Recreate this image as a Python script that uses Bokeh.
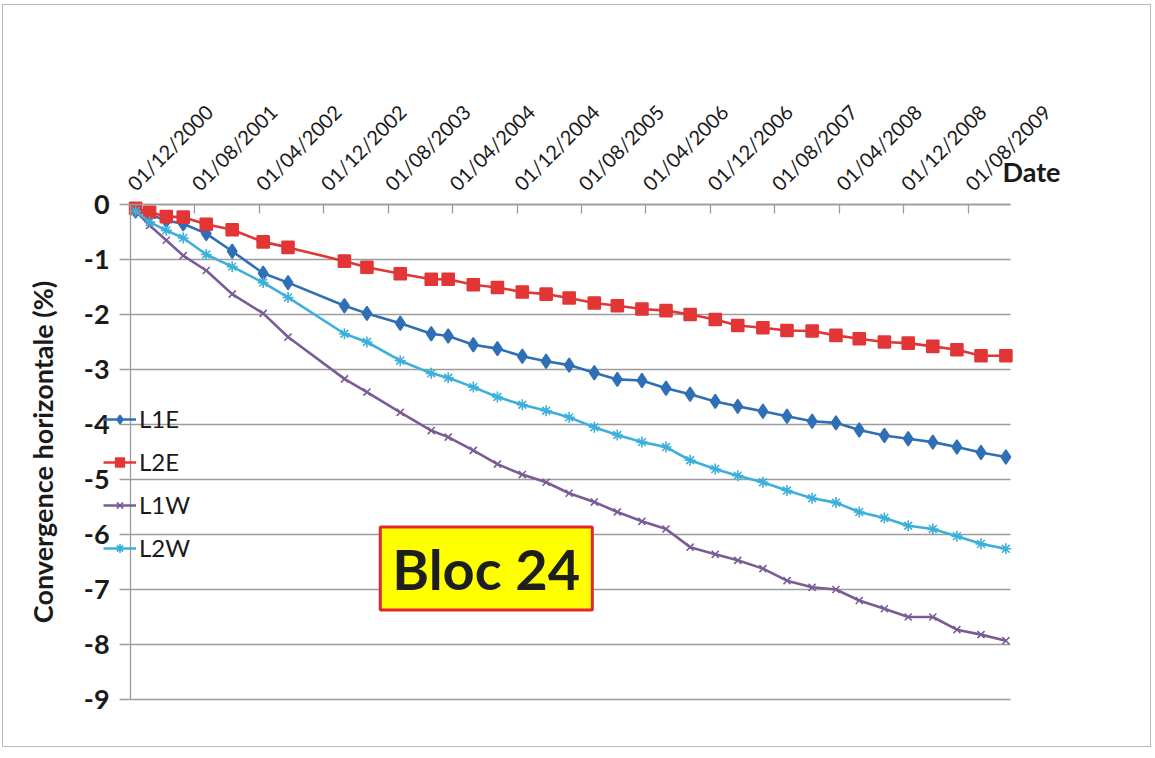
import pandas as pd
from math import pi
from bokeh.plotting import figure
from bokeh.models import (Range1d, FixedTicker, DatetimeTickFormatter, Legend,
                          LegendItem, Label, ColumnDataSource, PrintfTickFormatter)
from bokeh.embed import file_html
from bokeh.resources import INLINE

# ---------------- data ----------------
dates = ["2000-12-20", "2001-02-11", "2001-04-15", "2001-06-18", "2001-09-13",
         "2001-12-20", "2002-04-16", "2002-07-19", "2003-02-17", "2003-05-13",
         "2003-09-16", "2004-01-11", "2004-03-15", "2004-06-18", "2004-09-17",
         "2004-12-20", "2005-03-20", "2005-06-15", "2005-09-18", "2005-12-14",
         "2006-03-17", "2006-06-16", "2006-09-15", "2006-12-19", "2007-03-14",
         "2007-06-17", "2007-09-16", "2007-12-20", "2008-03-19", "2008-06-15",
         "2008-09-18", "2008-12-17", "2009-03-20", "2009-06-19", "2009-09-18",
         "2009-12-21"]

L1E = [-0.12, -0.18, -0.29, -0.35, -0.53, -0.85, -1.25, -1.42, -1.84, -1.98,
       -2.16, -2.35, -2.39, -2.55, -2.62, -2.76, -2.85, -2.92, -3.06, -3.18,
       -3.20, -3.34, -3.45, -3.58, -3.67, -3.76, -3.85, -3.94, -3.97, -4.10,
       -4.20, -4.26, -4.32, -4.41, -4.51, -4.59]

L2E = [-0.07, -0.14, -0.22, -0.23, -0.36, -0.46, -0.68, -0.78, -1.03, -1.14,
       -1.26, -1.36, -1.36, -1.46, -1.51, -1.59, -1.63, -1.70, -1.79, -1.84,
       -1.90, -1.93, -2.00, -2.09, -2.20, -2.24, -2.29, -2.30, -2.38, -2.44,
       -2.50, -2.52, -2.58, -2.64, -2.75, -2.75]

L1W = [-0.12, -0.38, -0.65, -0.93, -1.20, -1.63, -1.98, -2.41, -3.17, -3.41,
       -3.78, -4.11, -4.23, -4.47, -4.72, -4.91, -5.05, -5.25, -5.41, -5.59,
       -5.76, -5.90, -6.23, -6.36, -6.47, -6.62, -6.84, -6.96, -7.00, -7.20,
       -7.35, -7.50, -7.50, -7.73, -7.82, -7.93]

L2W = [-0.12, -0.32, -0.47, -0.61, -0.91, -1.13, -1.42, -1.69, -2.35, -2.50,
       -2.84, -3.07, -3.15, -3.32, -3.50, -3.64, -3.75, -3.87, -4.05, -4.19,
       -4.32, -4.41, -4.65, -4.81, -4.93, -5.05, -5.20, -5.34, -5.42, -5.59,
       -5.70, -5.84, -5.90, -6.03, -6.17, -6.26]

series_names = ["L1E", "L2E", "L1W", "L2W"]

tick_labels = ["01/12/2000", "01/08/2001", "01/04/2002", "01/12/2002",
               "01/08/2003", "01/04/2004", "01/12/2004", "01/08/2005",
               "01/04/2006", "01/12/2006", "01/08/2007", "01/04/2008",
               "01/12/2008", "01/08/2009"]

y_ticks = [0, -1, -2, -3, -4, -5, -6, -7, -8, -9]

x_axis_title = "Date"
y_axis_title = "Convergence horizontale (%)"
box_text = "Bloc 24"

# ---------------- styles ----------------
FONT = "Lato"
INK = "#1a1a1a"
colors = {"L1E": "#2f6fb6", "L2E": "#e23636", "L1W": "#7b5b96", "L2W": "#3cb0da"}
markers = {"L1E": "diamond", "L2E": "square", "L1W": "x", "L2W": "asterisk"}
msizes = {"L1E": 14, "L2E": 12, "L1W": 10, "L2W": 11}
GRID = "#9c9c9c"


def ms(s):
    return pd.Timestamp(s).timestamp() * 1000.0


x = pd.to_datetime(dates)
tick_dates = pd.to_datetime(tick_labels, dayfirst=True)
tick_ms = [t.timestamp() * 1000.0 for t in tick_dates]

axis_x_start = ms("2000-12-01")   # where the vertical axis crosses
axis_x_end = ms("2010-01-07")     # right end of the plotting area
y_min, y_max = min(y_ticks), max(y_ticks)

src = ColumnDataSource(dict(x=x, L1E=L1E, L2E=L2E, L1W=L1W, L2W=L2W))

# The frame covers almost the whole chart; axes are drawn at fixed positions
# inside it so that the legend and titles around the axes are not clipped.
p = figure(width=1149, height=743, x_axis_type="datetime",
           x_axis_location="above",
           x_range=Range1d(ms("1999-11-19"), ms("2010-08-07")),
           y_range=Range1d(-9.236, 2.036),
           output_backend="svg", toolbar_location=None,
           min_border_left=27, min_border_top=87,
           min_border_right=86, min_border_bottom=36)
p.styles = {"border": "1px solid #b8b8b8", "margin-left": "2px", "margin-top": "4px"}
p.outline_line_color = None
p.background_fill_color = "white"
p.border_fill_color = "white"

# grid: horizontal lines across the plotting area only
p.xgrid.visible = False
p.ygrid.grid_line_color = GRID
p.ygrid.grid_line_width = 1.3
p.ygrid.cross_bounds = (axis_x_start, axis_x_end)

# x axis (top), crossing at y = 0
xa = p.xaxis[0]
xa.fixed_location = 0
xa.bounds = (axis_x_start, axis_x_end)
xa.ticker = FixedTicker(ticks=tick_ms)
fmt = "%d/%m/%Y"
xa.formatter = DatetimeTickFormatter(microseconds=fmt, milliseconds=fmt, seconds=fmt,
                                     minsec=fmt, minutes=fmt, hourmin=fmt, hours=fmt,
                                     days=fmt, months=fmt, years=fmt)
xa.major_label_orientation = pi / 4
xa.major_label_text_font = FONT
xa.major_label_text_font_size = "20px"
xa.major_label_text_color = INK
xa.major_label_standoff = 18
xa.axis_line_color = GRID
xa.axis_line_width = 1.3
xa.major_tick_line_color = GRID
xa.major_tick_line_width = 1.3
xa.major_tick_in = 9
xa.major_tick_out = 0
xa.minor_tick_line_color = None

# y axis, crossing at the first date
ya = p.yaxis[0]
ya.fixed_location = axis_x_start
ya.bounds = (y_min, y_max)
ya.ticker = FixedTicker(ticks=y_ticks)
ya.formatter = PrintfTickFormatter(format="%d")
ya.major_label_text_font = FONT
ya.major_label_text_font_style = "bold"
ya.major_label_text_font_size = "27px"
ya.major_label_text_color = INK
ya.major_label_standoff = 10
ya.axis_line_color = GRID
ya.axis_line_width = 1.3
ya.major_tick_line_color = GRID
ya.major_tick_line_width = 1.3
ya.major_tick_in = 0
ya.major_tick_out = 11
ya.minor_tick_line_color = None
ya.axis_label = y_axis_title
ya.axis_label_text_font = FONT
ya.axis_label_text_font_style = "bold"
ya.axis_label_text_font_size = "27px"
ya.axis_label_text_color = INK
ya.axis_label_standoff = 22

# series
items = []
for name in series_names:
    c = colors[name]
    ln = p.line("x", name, source=src, line_color=c, line_width=2.6)
    mk = p.scatter("x", name, source=src, marker=markers[name], size=msizes[name],
                   fill_color=c, line_color=c, line_width=1.6)
    items.append(LegendItem(label=name, renderers=[ln, mk]))

legend = Legend(items=items, location=(73, 150), orientation="vertical",
                background_fill_alpha=0, border_line_color=None,
                padding=0, margin=0, spacing=14, glyph_width=33, glyph_height=22,
                label_height=22, label_standoff=3,
                label_text_font=FONT, label_text_font_size="24px",
                label_text_color=INK)
p.add_layout(legend)

# "Date" axis title at the right end of the top axis
p.add_layout(Label(x=ms("2009-12-08"), y=0.6, text=x_axis_title,
                   text_font=FONT, text_font_style="bold",
                   text_font_size="27px", text_color=INK,
                   text_align="left", text_baseline="middle"))

# "Bloc 24" box
p.add_layout(Label(x=ms("2004-08-06"), y=-6.62, text=box_text,
                   text_font=FONT, text_font_style="bold",
                   text_font_size="56px", text_color="#1e1e1e",
                   text_align="center", text_baseline="middle",
                   background_fill_color="#ffff00", border_line_color="#e3262b",
                   border_line_width=3, padding=(12, 8)))

open("out.html", "w").write(file_html(p, INLINE))
